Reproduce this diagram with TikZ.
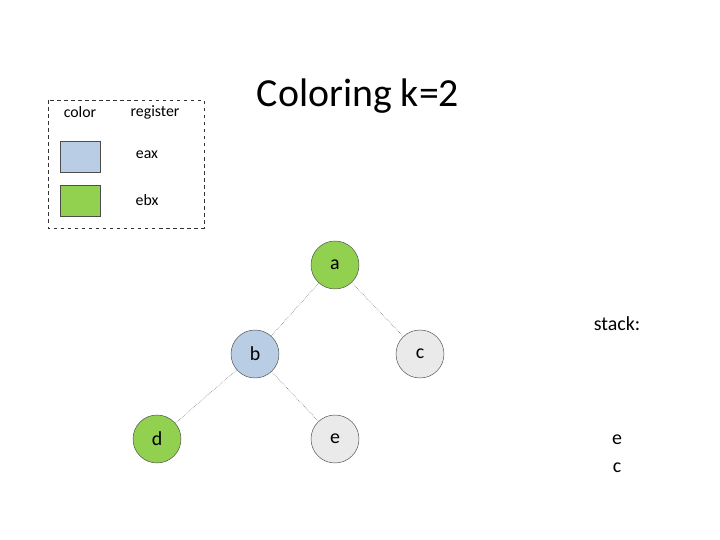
\documentclass[tikz,border=0pt]{standalone}
\usepackage{fontspec}
\setmainfont{Carlito}
\definecolor{regblue}{HTML}{B9CDE5}
\definecolor{reggreen}{HTML}{92D050}
\definecolor{reggray}{HTML}{EAEAEA}
\tikzset{
  vertex/.style={circle, draw=black!70, thin, minimum size=48*0.03cm, inner sep=0pt, font=\fontsize{17}{20}\selectfont},
  edge/.style={densely dotted, black!70, thin},
  legend/.style={font=\fontsize{13.5}{16}\selectfont},
  swatch/.style={draw=black!70, thin, minimum width=40*0.03cm, minimum height=31*0.03cm, inner sep=0pt}
}
\begin{document}
\begin{tikzpicture}[x=0.03cm, y=-0.03cm]
    \useasboundingbox (0,0) rectangle (720,540);

    % legend
    \draw [dashed, black!80] (48,100) rectangle (204,228);
    \node[legend] (colhead) at (80,112) {color};
    \node[legend] (reghead) at (155,112) {register};
    \node[swatch, fill=regblue] (sw1) at (80,157) {};
    \node[legend] (eax) at (147,155) {eax};
    \node[swatch, fill=reggreen] (sw2) at (80,201) {};
    \node[legend] (ebx) at (147,200) {ebx};

    \node[font=\fontsize{34}{40}\selectfont] (title) at (358,96) {Coloring k=2};

    % graph
    \node[vertex, fill=reggreen] (a) at (335,265) {a};
    \node[vertex, fill=regblue] (b) at (255,354) {b};
    \node[vertex, fill=reggray] (c) at (420,354) {c};
    \node[vertex, fill=reggreen] (d) at (157,439) {d};
    \node[vertex, fill=reggray] (e) at (335,439) {e};

    \draw [edge] (a) -- (b);
    \draw [edge] (a) -- (c);
    \draw [edge] (b) -- (d);
    \draw [edge] (b) -- (e);

    % stack
    \node[font=\fontsize{17}{20}\selectfont] (stack) at (617,324) {stack:};
    \node[font=\fontsize{17}{20}\selectfont] (s1) at (617,440) {e};
    \node[font=\fontsize{17}{20}\selectfont] (s2) at (617,468) {c};
  \end{tikzpicture}
\end{document}
